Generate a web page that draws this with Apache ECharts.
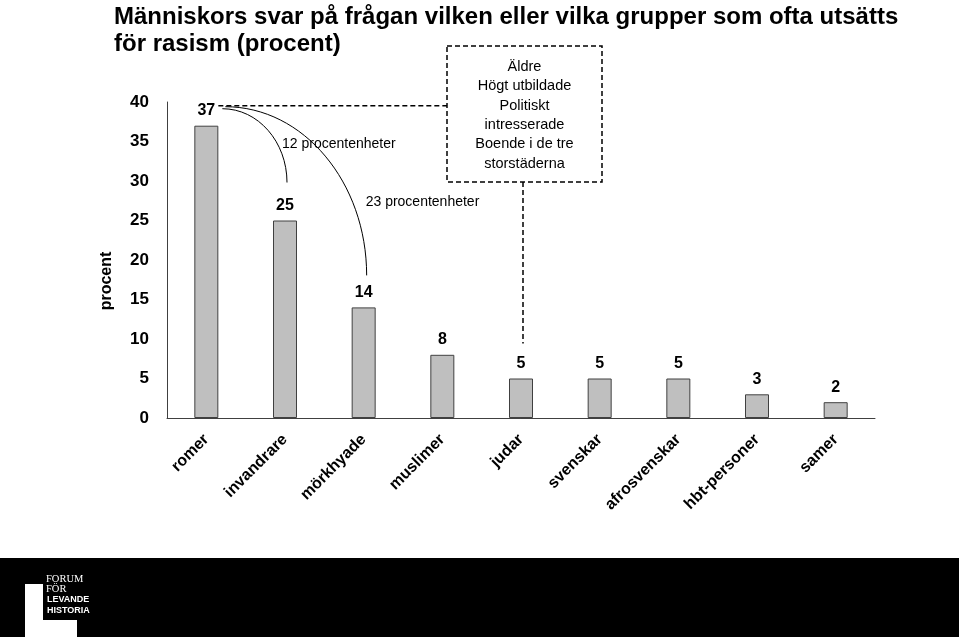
<!DOCTYPE html>
<html>
<head>
<meta charset="utf-8">
<script src="https://cdn.jsdelivr.net/npm/echarts@6/dist/echarts.min.js"></script>
<style>
html,body{margin:0;padding:0;background:#fff;}
#main{width:959px;height:637px;}
</style>
</head>
<body>
<div id="main"></div>
<script>
const titleLines = ['Människors svar på frågan vilken eller vilka grupper som ofta utsätts', 'för rasism (procent)'];
const categories = ['romer', 'invandrare', 'mörkhyade', 'muslimer', 'judar', 'svenskar', 'afrosvenskar', 'hbt-personer', 'samer'];
const values = [37, 25, 14, 8, 5, 5, 5, 3, 2];
const yTicks = [0, 5, 10, 15, 20, 25, 30, 35, 40];
const yAxisName = 'procent';
const gap1Text = '12 procentenheter';
const gap2Text = '23 procentenheter';
const boxLines = ['Äldre', 'Högt utbildade', 'Politiskt', 'intresserade', 'Boende i de tre', 'storstäderna'];
const logoLines = ['FORUM', 'FÖR', 'LEVANDE', 'HISTORIA'];

const BOLD = 'Liberation Sans';
const chart = echarts.init(document.getElementById('main'), null, {renderer: 'canvas'});

const option = {
  backgroundColor: '#ffffff',
  animation: false,
  title: {
    text: titleLines.join('\n'),
    left: 109, top: -1,
    textStyle: {fontFamily: BOLD, fontWeight: 'bold', fontSize: 24, lineHeight: 27, color: '#000'}
  },
  grid: {left: 167, right: 84, top: 102, bottom: 219, containLabel: false},
  xAxis: {
    type: 'category',
    data: categories,
    axisLine: {show: true, lineStyle: {color: '#404040', width: 1}},
    axisTick: {show: false},
    axisLabel: {interval: 0, rotate: 45, margin: 19, fontFamily: BOLD, fontWeight: 'bold', fontSize: 16, color: '#000'}
  },
  yAxis: {
    type: 'value',
    min: yTicks[0], max: yTicks[yTicks.length - 1], interval: yTicks[1] - yTicks[0],
    axisLine: {show: true, lineStyle: {color: '#404040', width: 1}},
    axisTick: {show: false},
    splitLine: {show: false},
    axisLabel: {margin: 18, fontFamily: BOLD, fontWeight: 'bold', fontSize: 17, color: '#000'}
  },
  series: [{
    type: 'bar',
    data: values,
    barWidth: 24,
    itemStyle: {color: '#BFBFBF', borderColor: '#404040', borderWidth: 1},
    label: {show: true, position: 'top', distance: 7, fontFamily: BOLD, fontWeight: 'bold', fontSize: 16, color: '#000'}
  }]
};
chart.setOption(option);

function px(i, v) { return chart.convertToPixel({seriesIndex: 0}, [i, v]); }
function quarterArc(x0, y0, x1, y1) {
  const k = 0.5523;
  const rx = x1 - x0, ry = y1 - y0;
  return {
    type: 'bezierCurve',
    shape: {x1: x0, y1: y0, cpx1: x0 + k * rx, cpy1: y0, cpx2: x1, cpy2: y1 - k * ry, x2: x1, y2: y1},
    style: {stroke: '#000', lineWidth: 1, fill: null}
  };
}

const a = px(0, values[0]);
const c = px(1, values[1]);
const d = px(2, values[2]);
const j = px(4, values[4]);
const top40 = px(0, yTicks[yTicks.length - 1])[1];
const dash = [5, 3];

const boxLeft = j[0] - 74, boxRight = j[0] + 81;
const boxTop = top40 - 56, boxBottom = top40 + 80;
const boxCx = (boxLeft + boxRight) / 2;

const graphics = [];
graphics.push({type: 'line', shape: {x1: a[0] + 12, y1: a[1] - 20, x2: boxLeft, y2: a[1] - 20},
  style: {stroke: '#000', lineWidth: 1.5, lineDash: dash}});
graphics.push({type: 'rect', shape: {x: boxLeft, y: boxTop, width: boxRight - boxLeft, height: boxBottom - boxTop},
  style: {stroke: '#000', lineWidth: 1.5, lineDash: dash, fill: null}});
graphics.push({type: 'line', shape: {x1: j[0] + 2, y1: boxBottom, x2: j[0] + 2, y2: j[1] - 35},
  style: {stroke: '#000', lineWidth: 1.5, lineDash: dash}});
graphics.push(quarterArc(a[0] + 16, a[1] - 17, c[0] + 2, c[1] - 38));
graphics.push(quarterArc(a[0] + 19, a[1] - 19, d[0] + 3, d[1] - 32));
graphics.push({type: 'text', x: c[0] - 3, y: a[1] + 18, style: {text: gap1Text, fontFamily: 'Liberation Sans', fontSize: 14, fill: '#000', textVerticalAlign: 'middle', textAlign: 'left'}});
graphics.push({type: 'text', x: d[0] + 2, y: c[1] - 18, style: {text: gap2Text, fontFamily: 'Liberation Sans', fontSize: 14, fill: '#000', textVerticalAlign: 'middle', textAlign: 'left'}});
boxLines.forEach(function (t, i) {
  graphics.push({type: 'text', x: boxCx, y: boxTop + 21 + i * 19.3, style: {text: t, fontFamily: 'Liberation Sans', fontSize: 14.5, fill: '#000', textAlign: 'center', textVerticalAlign: 'middle'}});
});
graphics.push({type: 'text', x: 107, y: (top40 + px(0, 0)[1]) / 2 + 21, rotation: Math.PI / 2,
  style: {text: yAxisName, fontFamily: BOLD, fontWeight: 'bold', fontSize: 16, fill: '#000', textAlign: 'center', textVerticalAlign: 'middle'}});
graphics.push({type: 'rect', shape: {x: 0, y: 558, width: 959, height: 79}, style: {fill: '#000'}});
graphics.push({type: 'rect', shape: {x: 25, y: 584, width: 18, height: 53}, style: {fill: '#fff'}});
graphics.push({type: 'rect', shape: {x: 25, y: 620, width: 52, height: 17}, style: {fill: '#fff'}});
graphics.push({type: 'text', x: 46, y: 579, style: {text: logoLines[0], fontFamily: 'Liberation Serif', fontSize: 10.5, fill: '#fff', textVerticalAlign: 'middle'}});
graphics.push({type: 'text', x: 46, y: 589, style: {text: logoLines[1], fontFamily: 'Liberation Serif', fontSize: 10.5, fill: '#fff', textVerticalAlign: 'middle'}});
graphics.push({type: 'text', x: 47, y: 600, style: {text: logoLines[2], fontFamily: 'Liberation Sans', fontWeight: 'bold', fontSize: 9, fill: '#fff', textVerticalAlign: 'middle'}});
graphics.push({type: 'text', x: 47, y: 610.5, style: {text: logoLines[3], fontFamily: 'Liberation Sans', fontWeight: 'bold', fontSize: 9, fill: '#fff', textVerticalAlign: 'middle'}});

chart.setOption({graphic: graphics});
</script>
</body>
</html>
